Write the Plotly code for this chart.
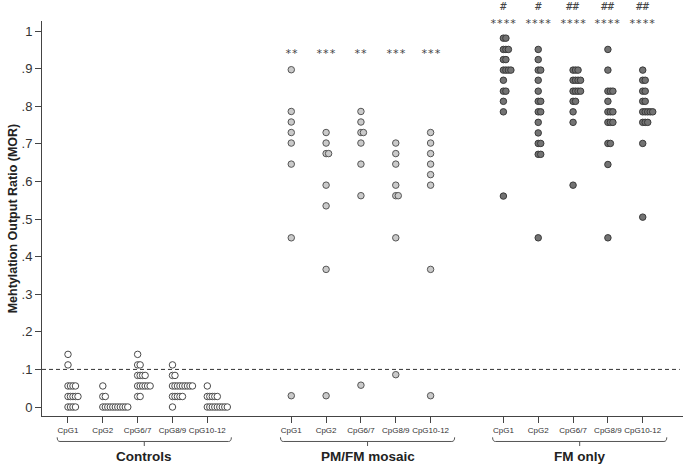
import plotly.graph_objects as go

# ---------------- data ----------------
categories = ["CpG1", "CpG2", "CpG6/7", "CpG8/9", "CpG10-12"]
group_names = ["Controls", "PM/FM mosaic", "FM only"]

controls_values = [
    [0.14, 0.112, 0.056, 0.056, 0.056, 0.056, 0.028, 0.028, 0.028, 0.028, 0.028, 0, 0, 0, 0],
    [0.056, 0.028, 0.028, 0, 0, 0, 0, 0, 0, 0, 0, 0, 0, 0],
    [0.14, 0.112, 0.112, 0.084, 0.084, 0.084, 0.084, 0.056, 0.056, 0.056, 0.056, 0.056, 0.056, 0.028, 0.028],
    [0.112, 0.084, 0.084, 0.056, 0.056, 0.056, 0.056, 0.056, 0.056, 0.056, 0.056, 0.056,
     0.028, 0.028, 0.028, 0.028, 0.028, 0],
    [0.056, 0.028, 0.028, 0.028, 0.028, 0.028, 0, 0, 0, 0, 0, 0, 0, 0, 0],
]

mosaic_values = [
    [0.897, 0.786, 0.758, 0.730, 0.702, 0.646, 0.450, 0.030],
    [0.730, 0.702, 0.674, 0.674, 0.590, 0.535, 0.366, 0.030],
    [0.786, 0.758, 0.730, 0.730, 0.702, 0.646, 0.562, 0.058],
    [0.702, 0.674, 0.646, 0.590, 0.562, 0.562, 0.450, 0.086],
    [0.730, 0.702, 0.674, 0.646, 0.618, 0.590, 0.366, 0.030],
]

fm_values = [
    [0.981, 0.981, 0.951, 0.951, 0.951, 0.924, 0.924, 0.896, 0.896, 0.896, 0.896,
     0.869, 0.840, 0.840, 0.813, 0.785, 0.561],
    [0.951, 0.924, 0.896, 0.896, 0.869, 0.840, 0.813, 0.813, 0.785, 0.785, 0.757,
     0.729, 0.701, 0.701, 0.672, 0.672, 0.450],
    [0.896, 0.896, 0.896, 0.869, 0.869, 0.869, 0.869, 0.840, 0.840, 0.840, 0.840,
     0.813, 0.813, 0.785, 0.757, 0.590],
    [0.951, 0.896, 0.840, 0.840, 0.840, 0.813, 0.785, 0.785, 0.785, 0.757, 0.757,
     0.757, 0.701, 0.701, 0.645, 0.450],
    [0.896, 0.869, 0.869, 0.840, 0.840, 0.813, 0.813, 0.785, 0.785, 0.785, 0.785,
     0.785, 0.757, 0.757, 0.757, 0.701, 0.505],
]

mosaic_marks = ["**", "***", "**", "***", "***"]
fm_marks = ["****", "****", "****", "****", "****"]
fm_marks2 = ["#", "#", "##", "##", "##"]

threshold = 0.1
y_ticks = [0, 0.1, 0.2, 0.3, 0.4, 0.5, 0.6, 0.7, 0.8, 0.9, 1.0]
y_ticktext = ["0", ".1", ".2", ".3", ".4", ".5", ".6", ".7", ".8", ".9", "1"]

# ---------------- layout helpers ----------------
group_start = [0.0, 6.41, 12.5]
stack_step = 0.0717
all_values = [controls_values, mosaic_values, fm_values]
fills = ["#ffffff", "#cacaca", "#737373"]
edges = ["#4a4a4a", "#555555", "#3a3a3a"]
mark_font = dict(family="DejaVu Sans Mono", size=11, color="#444444")

fig = go.Figure()

tickvals, ticktext = [], []
for g, group in enumerate(all_values):
    xs, ys = [], []
    for c, vals in enumerate(group):
        base = group_start[g] + c
        tickvals.append(base)
        ticktext.append(categories[c])
        seen = {}
        # stack equal values from the tick to the right
        for v in sorted(vals, reverse=True):
            k = seen.get(v, 0)
            seen[v] = k + 1
            xs.append(base + k * stack_step)
            ys.append(v)
    fig.add_trace(go.Scatter(
        x=xs, y=ys, mode="markers", name=group_names[g], showlegend=False,
        marker=dict(size=6.5, color=fills[g], line=dict(color=edges[g], width=1)),
        hoverinfo="skip", cliponaxis=False))

x_min, x_max = -0.746, 17.656

# threshold line
fig.add_shape(type="line", xref="paper", yref="y", x0=0, x1=0.995,
              y0=threshold, y1=threshold,
              line=dict(color="#333333", width=1, dash="4px,3px"))

# significance marks
for c in range(5):
    fig.add_annotation(x=group_start[1] + c, y=0.94, xref="x", yref="y",
                       text=mosaic_marks[c], showarrow=False, font=mark_font)
    fig.add_annotation(x=group_start[2] + c, y=1.02, xref="x", yref="y",
                       text=fm_marks[c], showarrow=False, font=mark_font)
    fig.add_annotation(x=group_start[2] + c, y=1.037, xref="x", yref="paper",
                       text=fm_marks2[c], showarrow=False, yanchor="middle",
                       font=mark_font)

# group brackets and labels
yb, ye, ys_ = -0.0645, -0.054, -0.076
for g in range(3):
    x0 = group_start[g] - 0.31
    x1 = group_start[g] + 4 + 0.69
    xm = (x0 + x1) / 2
    fig.add_shape(type="path", xref="x", yref="paper",
                  path=f"M {x0},{ye} Q {x0},{yb} {x0+0.08},{yb} L {x1-0.08},{yb} Q {x1},{yb} {x1},{ye}",
                  line=dict(color="#555555", width=1))
    fig.add_shape(type="line", xref="x", yref="paper", x0=xm, x1=xm, y0=yb, y1=ys_,
                  line=dict(color="#555555", width=1))
    fig.add_annotation(x=xm, y=-0.102, xref="x", yref="paper", text=f"<b>{group_names[g]}</b>",
                       showarrow=False, yanchor="middle",
                       font=dict(family="Liberation Sans", size=13.5, color="#222222"))

# y axis title
fig.add_annotation(x=-0.0455, y=0.5, xref="paper", yref="paper",
                   text="<b>Mehtylation Output Ratio (MOR)</b>", textangle=-90,
                   showarrow=False, xanchor="center", yanchor="middle",
                   font=dict(family="Liberation Sans", size=12.5, color="#222222"))

fig.update_layout(
    width=685, height=464,
    margin=dict(l=42, r=2, t=21, b=48, autoexpand=False),
    paper_bgcolor="white", plot_bgcolor="white",
    xaxis=dict(range=[x_min, x_max], tickvals=tickvals, ticktext=ticktext,
               tickangle=0, automargin=False,
               showgrid=False, zeroline=False, showline=True, linecolor="#444444",
               linewidth=1, ticks="outside", ticklen=6, tickcolor="#444444",
               tickfont=dict(family="Liberation Sans", size=8, color="#333333")),
    yaxis=dict(range=[-0.0239, 1.0266], tickvals=y_ticks, ticktext=y_ticktext,
               automargin=False,
               showgrid=False, zeroline=False, showline=True, linecolor="#444444",
               linewidth=1, ticks="outside", ticklen=6, tickcolor="#444444",
               tickfont=dict(family="Liberation Sans", size=13, color="#333333")),
)

fig.write_html("out.html", config={"displayModeBar": False},
               post_script="document.body.style.margin='0';document.body.style.overflow='hidden';")
